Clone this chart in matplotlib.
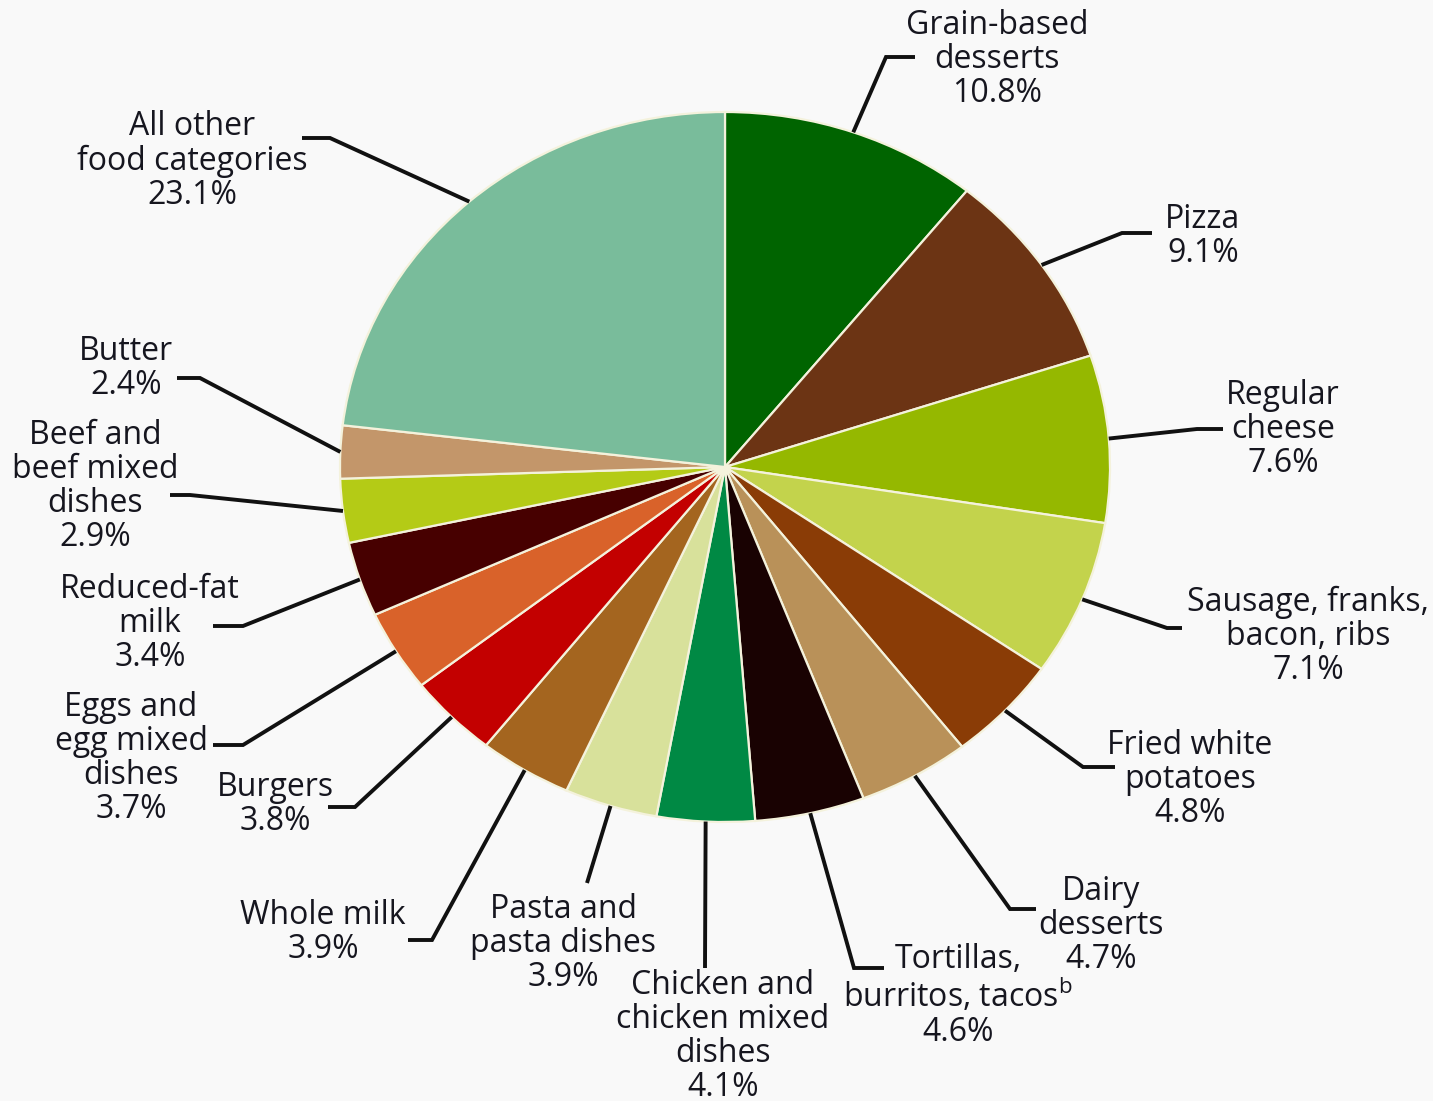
import matplotlib
matplotlib.use("Agg")
import matplotlib.pyplot as plt
import numpy as np

# Share of the total, clockwise from 12 o'clock
categories = [
    "Grain-based\ndesserts",
    "Pizza",
    "Regular\ncheese",
    "Sausage, franks,\nbacon, ribs",
    "Fried white\npotatoes",
    "Dairy\ndesserts",
    "Tortillas,\nburritos, tacos$^{\\mathregular{b}}$",
    "Chicken and\nchicken mixed\ndishes",
    "Pasta and\npasta dishes",
    "Whole milk",
    "Burgers",
    "Eggs and\negg mixed\ndishes",
    "Reduced-fat\nmilk",
    "Beef and\nbeef mixed\ndishes",
    "Butter",
    "All other\nfood categories",
]
shares = [10.8, 9.1, 7.6, 7.1, 4.8, 4.7, 4.6, 4.1, 3.9, 3.9, 3.8, 3.7, 3.4, 2.9, 2.4, 23.1]

colors = [
    "#006400", "#6C3414", "#95B800", "#C3D34C", "#8A3C06", "#B99159",
    "#190202", "#008944", "#D8E19B", "#A4651F", "#C30000", "#D9622A",
    "#470000", "#B4CB16", "#C3966A", "#79BC9B",
]

# Label block centres and leader-line bends, in pixel space of the canvas
label_xy = [
    (997, 60), (1203, 237), (1283, 430), (1308, 636), (1190, 779),
    (1101, 925), (958, 996), (723, 1036), (563, 944), (323, 932),
    (275, 805), (131, 758), (150, 623), (95, 486), (126, 369), (192, 161),
]
leader_bends = [
    [(886, 57), (915, 57)],
    [(1122, 233), (1152, 233)],
    [(1197, 429), (1223, 429)],
    [(1167, 628), (1182, 628)],
    [(1083, 767), (1115, 767)],
    [(1010, 909), (1036, 909)],
    [(854, 968), (884, 968)],
    [(705, 968)],
    [(587, 883)],
    [(432, 940), (408, 940)],
    [(355, 807), (328, 807)],
    [(243, 745), (213, 745)],
    [(243, 626), (213, 626)],
    [(190, 495), (170, 495)],
    [(200, 378), (177, 378)],
    [(330, 138), (302, 138)],
]

W, H = 1433, 1101
CX, CY, RX, RY = 725, 467, 385, 355
BG = "#F9F9F9"
TEXT = "#16161F"


def to_data(px, py):
    return (px - CX) / RX, (CY - py) / RY


fig = plt.figure(figsize=(W / 100, H / 100), dpi=100, facecolor=BG)
ax = fig.add_axes([0, 0, 1, 1])
ax.set_facecolor(BG)

wedges, _ = ax.pie(
    shares,
    colors=colors,
    startangle=90,
    counterclock=False,
    wedgeprops=dict(edgecolor="#F4F2DC", linewidth=1.6),
)
ax.set_aspect("auto")
ax.set_xlim(-CX / RX, (W - CX) / RX)
ax.set_ylim(-(H - CY) / RY, CY / RY)
ax.axis("off")

for w, name, share, (lx, ly), bends in zip(wedges, categories, shares, label_xy, leader_bends):
    mid = np.deg2rad((w.theta1 + w.theta2) / 2)
    xs = [np.cos(mid)]
    ys = [np.sin(mid)]
    for bx, by in bends:
        dx, dy = to_data(bx, by)
        xs.append(dx)
        ys.append(dy)
    ax.plot(xs, ys, color="#111111", lw=2.8, solid_capstyle="butt",
            solid_joinstyle="miter", clip_on=False)
    tx, ty = to_data(lx, ly)
    ax.text(tx, ty, f"{name}\n{share:.1f}%", ha="center", va="center",
            multialignment="center", fontsize=23, family="Open Sans",
            color=TEXT, linespacing=1.04)

fig.savefig("out.png", dpi=100, facecolor=BG)
